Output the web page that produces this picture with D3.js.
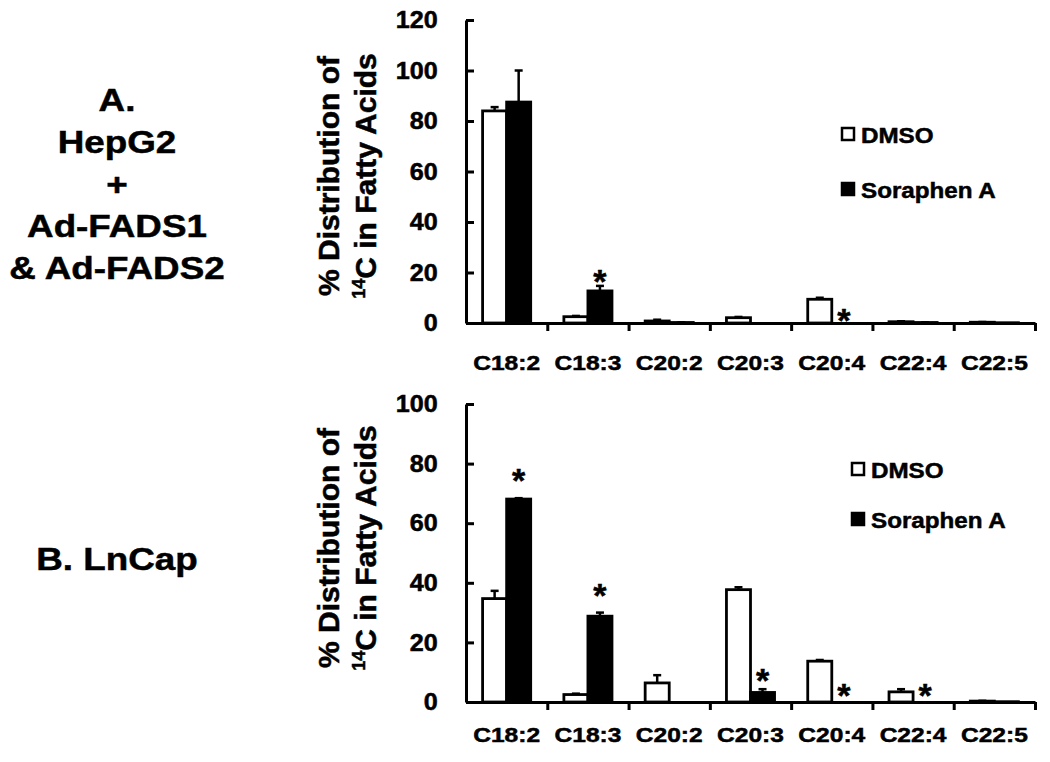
<!DOCTYPE html>
<html>
<head>
<meta charset="utf-8">
<script src="https://cdn.jsdelivr.net/npm/d3@7.9.0/dist/d3.min.js"></script>
<style>
  body { margin: 0; background: #fff; }
  svg { display: block; font-family: "Liberation Sans", Arial, sans-serif; font-weight: bold; }
  svg text { stroke: #000; stroke-width: 0.5px; }
</style>
</head>
<body>
<svg width="1050" height="762"></svg>
<script>
// categories + series
const fattyAcids = ["C18:2", "C18:3", "C20:2", "C20:3", "C20:4", "C22:4", "C22:5"];
const seriesNames = ["DMSO", "Soraphen A"];

// Panel A: HepG2 + Ad-FADS1 & Ad-FADS2
const hepg2Dmso = [84, 2.5, 0.8, 2.1, 9.4, 0.5, 0.3];
const hepg2DmsoErr = [1.5, 0.3, 0.5, 0.3, 0.6, 0.2, 0.1];
const hepg2Sor = [87.5, 12.7, 0.2, 0, 0, 0.2, 0.1];
const hepg2SorErr = [12.5, 2, 0.1, 0, 0, 0.1, 0];
const hepg2Stars = [null, 19.4, null, null, 4, null, null]; // level of the "*" mark
const hepg2Ticks = [0, 20, 40, 60, 80, 100, 120];

// Panel B: LnCap
const lncapDmso = [34.7, 2.5, 6.4, 37.7, 13.7, 3.4, 0.3];
const lncapDmsoErr = [2.6, 0.3, 2.6, 0.8, 0.4, 0.9, 0.1];
const lncapSor = [68.1, 28.8, 0, 3.2, 0, 0, 0.1];
const lncapSorErr = [0.3, 1.2, 0, 1.1, 0, 0, 0];
const lncapStars = [76.8, 38.2, null, 9.6, 4.6, 4.6, null];
const lncapTicks = [0, 20, 40, 60, 80, 100];

const svg = d3.select("svg");
const fills = { "DMSO": "#fff", "Soraphen A": "#000" };

const panels = [
  {
    dmso: hepg2Dmso, dmsoErr: hepg2DmsoErr, sor: hepg2Sor, sorErr: hepg2SorErr,
    stars: hepg2Stars, ticks: hepg2Ticks,
    top: 20, bottom: 323, labelPad: 32, legendX: 842, legendY: [128, 183], titleY: 176,
    label: ["A.", "HepG2", "+", "Ad-FADS1", "& Ad-FADS2"], labelY: 111,
  },
  {
    dmso: lncapDmso, dmsoErr: lncapDmsoErr, sor: lncapSor, sorErr: lncapSorErr,
    stars: lncapStars, ticks: lncapTicks,
    top: 404, bottom: 702, labelPad: 25, legendX: 852, legendY: [463, 513], titleY: 548,
    label: ["B. LnCap"], labelY: 570,
  },
];

const x0 = d3.scaleBand().domain(fattyAcids).range([466, 1035]).padding(0);
const x1 = d3.scaleBand().domain(seriesNames).range([0, x0.bandwidth()])
  .paddingInner(0).paddingOuter(0.69);
// edges between categories (Excel style ticks)
const xEdge = d3.scaleLinear().domain([0, fattyAcids.length]).range(x0.range());

const renderPanel = (p) => {
  const y = d3.scaleLinear().domain([0, d3.max(p.ticks)]).range([p.bottom, p.top]);
  const g = svg.append("g");

  const rows = fattyAcids.map((fa, i) => ({
    fa,
    bars: [
      { name: "DMSO", v: p.dmso[i], e: p.dmsoErr[i] },
      { name: "Soraphen A", v: p.sor[i], e: p.sorErr[i] },
    ],
  }));

  const groups = g.selectAll("g.cat").data(rows).join("g")
    .attr("class", "cat")
    .attr("transform", (d) => `translate(${x0(d.fa)},0)`);

  // error bars first, bars over them
  const err = groups.selectAll("g.err").data((d) => d.bars.filter((b) => b.e > 0)).join("g")
    .attr("class", "err")
    .attr("stroke", "#000").attr("stroke-width", 2.5);
  err.append("line")
    .attr("x1", (b) => x1(b.name) + x1.bandwidth() / 2)
    .attr("x2", (b) => x1(b.name) + x1.bandwidth() / 2)
    .attr("y1", (b) => y(b.v)).attr("y2", (b) => y(b.v + b.e));
  err.append("line")
    .attr("x1", (b) => x1(b.name) + x1.bandwidth() / 2 - 4)
    .attr("x2", (b) => x1(b.name) + x1.bandwidth() / 2 + 4)
    .attr("y1", (b) => y(b.v + b.e)).attr("y2", (b) => y(b.v + b.e));

  groups.selectAll("rect").data((d) => d.bars).join("rect")
    .attr("x", (b) => x1(b.name))
    .attr("width", x1.bandwidth())
    .attr("y", (b) => y(b.v))
    .attr("height", (b) => y(0) - y(b.v))
    .attr("fill", (b) => fills[b.name])
    .attr("stroke", "#000")
    .attr("stroke-width", 2.8);

  // significance asterisks
  g.selectAll("text.star")
    .data(fattyAcids.map((fa, i) => ({ fa, s: p.stars[i] })).filter((d) => d.s != null))
    .join("text")
    .attr("class", "star")
    .attr("x", (d) => x0(d.fa) + x1("Soraphen A") + x1.bandwidth() / 2)
    .attr("y", (d) => y(d.s) + 19)
    .attr("text-anchor", "middle")
    .attr("font-size", 34)
    .text("*");

  // y axis
  const yAxis = g.append("g")
    .attr("transform", `translate(${x0.range()[0]},0)`)
    .call(d3.axisLeft(y).tickValues(p.ticks).tickSize(-8).tickSizeOuter(0).tickPadding(27));
  yAxis.selectAll("path, line").attr("stroke-width", 3);
  yAxis.selectAll("text")
    .attr("font-size", 24).attr("font-weight", "bold")
    .attr("transform", "scale(1.05,1)");
  yAxis.attr("font-family", null).attr("font-size", null);

  // x axis line with edge ticks
  const xAxis = g.append("g")
    .attr("transform", `translate(0,${p.bottom})`)
    .call(d3.axisBottom(xEdge).tickValues(d3.range(1, fattyAcids.length + 1))
      .tickSize(8).tickSizeOuter(0).tickFormat(""));
  xAxis.selectAll("path, line").attr("stroke-width", 3);

  // category labels
  const xLabels = g.append("g")
    .attr("transform", `translate(0,${p.bottom})`)
    .call(d3.axisBottom(x0).tickSize(0).tickPadding(p.labelPad));
  xLabels.select(".domain").remove();
  xLabels.attr("font-family", null).attr("font-size", null);
  xLabels.selectAll("text")
    .attr("font-size", 21)
    .attr("transform", "scale(1.17,1)");

  // legend
  seriesNames.forEach((name, i) => {
    svg.append("rect")
      .attr("x", p.legendX).attr("y", p.legendY[i])
      .attr("width", 12).attr("height", 12)
      .attr("fill", fills[name]).attr("stroke", "#000").attr("stroke-width", 2.5);
    svg.append("text")
      .attr("transform", `translate(${p.legendX + 19},${p.legendY[i] + 15}) scale(1.1,1)`)
      .attr("font-size", 22)
      .text(name);
  });

  // y title, two lines
  const title = svg.append("g")
    .attr("transform", `translate(339,${p.titleY}) rotate(-90)`)
    .attr("font-size", 30)
    .attr("text-anchor", "middle");
  title.append("text").text("% Distribution of");
  const t2 = title.append("text").attr("y", 37);
  t2.append("tspan").attr("font-size", 18).attr("dy", -11).text("14");
  t2.append("tspan").attr("dy", 11).text("C in Fatty Acids");

  // panel label on the left
  p.label.forEach((line, i) => {
    svg.append("text")
      .attr("transform", `translate(117,${p.labelY + i * 42}) scale(1.15,1)`)
      .attr("text-anchor", "middle")
      .attr("font-size", 32)
      .text(line);
  });
};

panels.forEach(renderPanel);
</script>
</body>
</html>
